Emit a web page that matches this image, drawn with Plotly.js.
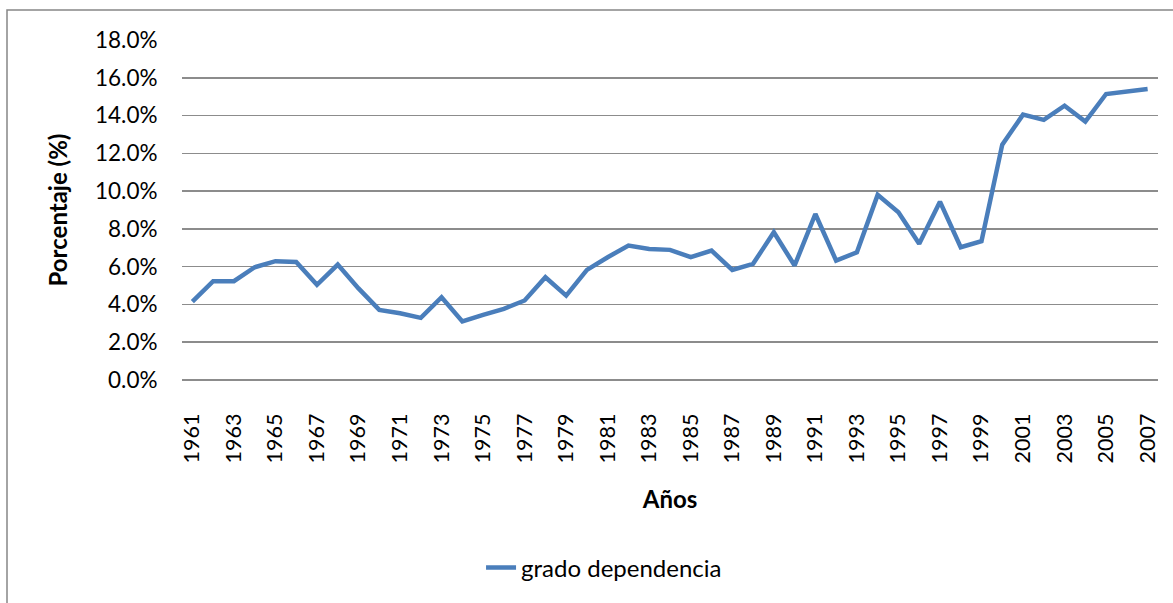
<!DOCTYPE html>
<html>
<head>
<meta charset="utf-8">
<script src="https://cdn.plot.ly/plotly-3.0.1.min.js"></script>
<style>
  html, body { margin: 0; padding: 0; background: #ffffff; }
  #chart { width: 1173px; height: 603px; }
</style>
</head>
<body>
<div id="chart"></div>
<script>
const years = [1961,1962,1963,1964,1965,1966,1967,1968,1969,1970,
               1971,1972,1973,1974,1975,1976,1977,1978,1979,1980,
               1981,1982,1983,1984,1985,1986,1987,1988,1989,1990,
               1991,1992,1993,1994,1995,1996,1997,1998,1999,2000,
               2001,2002,2003,2004,2005,2006,2007];
const gradoDependencia = [4.15,5.23,5.23,5.97,6.29,6.25,5.04,6.11,4.85,3.71,
                          3.53,3.29,4.38,3.10,3.45,3.77,4.21,5.44,4.47,5.83,
                          6.50,7.12,6.94,6.89,6.50,6.85,5.83,6.15,7.82,6.06,
                          8.79,6.32,6.76,9.80,8.88,7.21,9.44,7.03,7.35,12.46,
                          14.05,13.77,14.52,13.68,15.14,15.26,15.41];
const yearTicks = [1961,1963,1965,1967,1969,1971,1973,1975,1977,1979,1981,1983,
                   1985,1987,1989,1991,1993,1995,1997,1999,2001,2003,2005,2007];
const yearTickLabels = yearTicks.map(String);
const seriesName = 'grado dependencia';
const xTitle = 'Años';
const yTitle = 'Porcentaje (%)';

const FONT = 'Lato, "Open Sans", sans-serif';

const trace = {
  x: years,
  y: gradoDependencia,
  type: 'scatter',
  mode: 'lines',
  name: seriesName,
  line: { color: '#4a7ebb', width: 4.5 },
  showlegend: true
};

const layout = {
  width: 1173,
  height: 603,
  margin: { l: 182, r: 15, t: 40, b: 223 },
  paper_bgcolor: '#ffffff',
  plot_bgcolor: '#ffffff',
  font: { family: FONT, color: '#000000', size: 22 },
  xaxis: {
    type: 'linear',
    range: [1960.5, 2007.5],
    tickmode: 'array',
    tickvals: yearTicks,
    ticktext: yearTickLabels,
    tickangle: -90,
    ticks: 'outside',
    ticklen: 24,
    tickcolor: 'rgba(0,0,0,0)',
    showgrid: false,
    zeroline: false,
    showline: false,
    tickfont: { family: FONT, size: 21.5, color: '#000000' },
    title: { text: xTitle, font: { family: FONT, size: 24, color: '#000000', weight: 'bold' }, standoff: 28 }
  },
  yaxis: {
    range: [0, 18],
    tickmode: 'linear',
    tick0: 0,
    dtick: 2,
    tickformat: '.1f',
    ticksuffix: '%',
    ticks: 'outside',
    ticklen: 19,
    tickcolor: 'rgba(0,0,0,0)',
    showgrid: true,
    gridcolor: '#8c8c8c',
    gridwidth: 1.5,
    zeroline: true,
    zerolinecolor: '#8c8c8c',
    zerolinewidth: 1.5,
    showline: false,
    tickfont: { family: FONT, size: 22.5, color: '#000000' },
    title: { text: yTitle, font: { family: FONT, size: 24, color: '#000000', weight: 'bold' }, standoff: 20 }
  },
  showlegend: true,
  legend: {
    orientation: 'h',
    x: 0.3064,
    xanchor: 'left',
    y: -0.553,
    yanchor: 'middle',
    font: { family: FONT, size: 24, color: '#000000' },
    bgcolor: 'rgba(0,0,0,0)',
    borderwidth: 0
  },
  shapes: [{
    type: 'rect',
    xref: 'paper', yref: 'paper',
    x0: -0.1793, x1: 1.06,
    y0: -0.70, y1: 1.088,
    line: { color: '#868686', width: 1.5 },
    fillcolor: 'rgba(0,0,0,0)',
    layer: 'below'
  }]
};

Plotly.newPlot('chart', [trace], layout, { displayModeBar: false, staticPlot: true });
</script>
</body>
</html>
